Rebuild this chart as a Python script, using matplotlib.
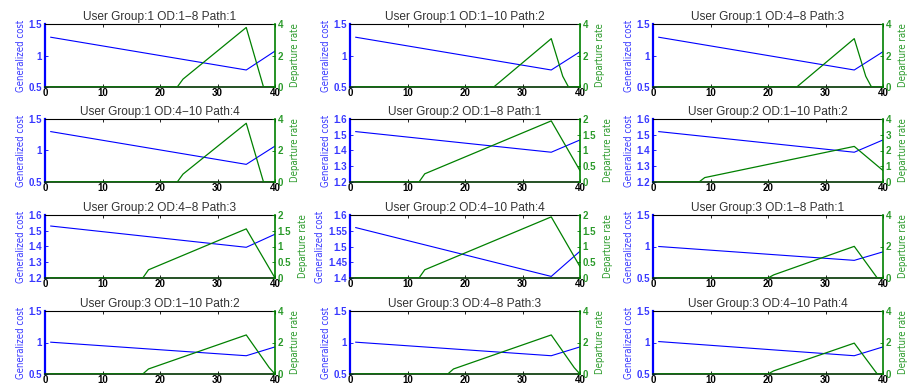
import matplotlib
matplotlib.use('Agg')
import matplotlib.pyplot as plt
from matplotlib import font_manager as fm
from matplotlib.font_manager import FontProperties
from matplotlib.textpath import TextToPath

# pick a condensed font for the y labels if one is installed
cond_path = None
for key in ('LiberationSansNarrow-Regular', 'DejaVuSansCondensed.ttf'):
    for f in fm.fontManager.ttflist:
        if key in f.fname:
            cond_path = f.fname
            break
    if cond_path:
        break

def label_fp(size):
    if cond_path:
        return FontProperties(fname=cond_path, size=size)
    return FontProperties(family='Liberation Sans', size=size)

# ---------------- data ----------------
titles = [
    "User Group:1 OD:1\u22128 Path:1", "User Group:1 OD:1\u221210 Path:2", "User Group:1 OD:4\u22128 Path:3",
    "User Group:1 OD:4\u221210 Path:4", "User Group:2 OD:1\u22128 Path:1", "User Group:2 OD:1\u221210 Path:2",
    "User Group:2 OD:4\u22128 Path:3", "User Group:2 OD:4\u221210 Path:4", "User Group:3 OD:1\u22128 Path:1",
    "User Group:3 OD:1\u221210 Path:2", "User Group:3 OD:4\u22128 Path:3", "User Group:3 OD:4\u221210 Path:4",
]

cost_x = [1, 35, 40]
cost_y = [
    [1.29, 0.77, 1.07],
    [1.29, 0.77, 1.06],
    [1.29, 0.77, 1.06],
    [1.30, 0.78, 1.07],
    [1.52, 1.389, 1.467],
    [1.52, 1.389, 1.467],
    [1.53, 1.395, 1.478],
    [1.56, 1.405, 1.485],
    [1.00, 0.78, 0.915],
    [1.005, 0.79, 0.93],
    [1.005, 0.79, 0.93],
    [1.015, 0.79, 0.93],
]

rate_x = [
    [1, 23, 24, 35, 38, 40],
    [1, 25, 35, 37, 38, 40],
    [1, 25, 35, 37, 38, 40],
    [1, 23, 24, 35, 38, 40],
    [1, 12, 13, 35, 40],
    [1, 8, 9, 35, 40],
    [1, 17, 18, 35, 40],
    [1, 12, 13, 35, 40],
    [1, 20, 21, 35, 39, 40],
    [1, 17, 18, 35, 39, 40],
    [1, 17, 18, 35, 39, 40],
    [1, 20, 21, 35, 39, 40],
]
rate_y = [
    [0, 0, 0.5, 3.78, 0, 0],
    [0, 0, 3.07, 0.68, 0, 0],
    [0, 0, 3.07, 0.68, 0, 0],
    [0, 0, 0.5, 3.73, 0, 0],
    [0, 0, 0.26, 1.94, 0.36],
    [0, 0, 0.28, 2.26, 0.73],
    [0, 0, 0.26, 1.56, 0.0],
    [0, 0, 0.26, 1.94, 0.36],
    [0, 0, 0.2, 2.01, 0, 0],
    [0, 0, 0.32, 2.48, 0.4, 0],
    [0, 0, 0.32, 2.48, 0.4, 0],
    [0, 0, 0.2, 1.96, 0, 0],
]

left_ticks = [
    [0.5, 1, 1.5], [0.5, 1, 1.5], [0.5, 1, 1.5], [0.5, 1, 1.5],
    [1.2, 1.3, 1.4, 1.5, 1.6], [1.2, 1.3, 1.4, 1.5, 1.6], [1.2, 1.3, 1.4, 1.5, 1.6],
    [1.4, 1.45, 1.5, 1.55, 1.6],
    [0.5, 1, 1.5], [0.5, 1, 1.5], [0.5, 1, 1.5], [0.5, 1, 1.5],
]
right_ticks = [
    [0, 2, 4], [0, 2, 4], [0, 2, 4], [0, 2, 4],
    [0, 0.5, 1, 1.5, 2], [0, 1, 2, 3, 4], [0, 0.5, 1, 1.5, 2], [0, 0.5, 1, 1.5, 2],
    [0, 2, 4], [0, 2, 4], [0, 2, 4], [0, 2, 4],
]
x_ticks = [0, 10, 20, 30, 40]

# ---------------- figure ----------------
W, H = 909, 385
fig = plt.figure(figsize=(W / 100, H / 100), dpi=100)
BLUE = '#0000ff'
GREEN = '#008000'
BLUE_TXT = '#3838ff'
GREEN_TXT = '#2a9a2a'

# size the y labels so that "Generalized cost" is ~72 px long
ttp = TextToPath()
w10, _, _ = ttp.get_text_width_height_descent('Generalized cost', label_fp(10), ismath=False)
lab_size = min(9.5, 10 * (72 * 0.72) / w10)

col_left = [45, 350, 653]
row_top = [24, 119, 215, 311]
aw, ah = 230, 63

TICKFONT = dict(fontsize=7, fontweight='bold', family='Liberation Sans')

for i in range(12):
    r, c = divmod(i, 3)
    rect = [col_left[c] / W, 1 - (row_top[r] + ah) / H, aw / W, ah / H]
    ax = fig.add_axes(rect)
    ax2 = ax.twinx()

    ax.plot(cost_x, cost_y[i], color=BLUE, lw=0.8)
    ax2.plot(rate_x[i], rate_y[i], color=GREEN, lw=0.9)

    lt = left_ticks[i]
    rt = right_ticks[i]
    ax.set_xlim(0, 40)
    ax.set_ylim(lt[0], lt[-1])
    ax2.set_ylim(rt[0], rt[-1])
    ax.set_xticks(x_ticks)
    ax.set_xticklabels([str(t) for t in x_ticks], **TICKFONT)
    ax.set_yticks(lt)
    ax.set_yticklabels(['%g' % t for t in lt], color=BLUE_TXT, **TICKFONT)
    ax2.set_yticks(rt)
    ax2.set_yticklabels(['%g' % t for t in rt], color=GREEN_TXT, **TICKFONT)

    ax.tick_params(axis='x', direction='in', length=2.5, width=0.6, pad=0.5,
                   top=True, colors='black')
    ax.tick_params(axis='y', direction='in', length=2.5, width=0.6, pad=2,
                   colors=BLUE, labelcolor=BLUE_TXT)
    ax2.tick_params(axis='y', direction='in', length=2.5, width=0.6, pad=2,
                    colors=GREEN, labelcolor=GREEN_TXT)

    for a in (ax, ax2):
        for s in a.spines.values():
            s.set_visible(False)
    ax.spines['left'].set_visible(True)
    ax.spines['left'].set_color(BLUE)
    ax.spines['left'].set_linewidth(1.6)
    ax.spines['bottom'].set_visible(True)
    ax.spines['bottom'].set_color('#003300')
    ax.spines['bottom'].set_linewidth(1.2)
    ax.spines['top'].set_visible(True)
    ax.spines['top'].set_color('black')
    ax.spines['top'].set_linewidth(0.8)
    ax2.spines['right'].set_visible(True)
    ax2.spines['right'].set_color(GREEN)
    ax2.spines['right'].set_linewidth(1.2)

    ax.set_ylabel('Generalized cost', color=BLUE_TXT,
                  fontproperties=label_fp(lab_size), labelpad=2)
    ax2.set_ylabel('Departure rate', color=GREEN_TXT,
                   fontproperties=label_fp(lab_size), labelpad=5)
    ax.set_title(titles[i], fontsize=8.6, family='Liberation Sans', color='#333333', pad=3)

fig.savefig('out.png', dpi=100, facecolor='white')
